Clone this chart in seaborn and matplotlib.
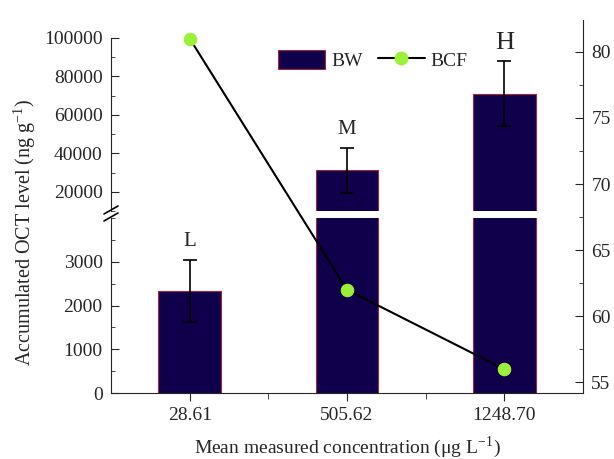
import numpy as np
import pandas as pd
import matplotlib
matplotlib.use("Agg")
import matplotlib.pyplot as plt
from matplotlib.lines import Line2D
from matplotlib.patches import Patch
from matplotlib.ticker import MultipleLocator
import seaborn as sns

# data
concentrations = ["28.61", "505.62", "1248.70"]
groups = ["L", "M", "H"]
bw = [2330, 31300, 71000]
bw_err = [710, 11700, 17000]
bcf = [81, 62, 56]

bar_color = "#10004c"
edge_color = "#a0283c"
dot_color = "#9cf03a"

sns.set_style("ticks")
plt.rcParams["font.family"] = ["Liberation Serif", "DejaVu Serif"]
plt.rcParams["mathtext.fontset"] = "stix"
plt.rcParams["font.size"] = 14

df = pd.DataFrame({"conc": concentrations, "BW": bw, "err": bw_err, "group": groups})
pos = np.arange(len(concentrations))

fig = plt.figure(figsize=(6.14, 4.59), dpi=100)
W, H = 614, 459
left, right = 111 / W, 583 / W


def frac(top_px, bottom_px):
    return [left, 1 - bottom_px / H, right - left, (bottom_px - top_px) / H]


ax_lo = fig.add_axes(frac(218, 393))
ax_hi = fig.add_axes(frac(38, 211))
ax_r = fig.add_axes(frac(20, 393))

for ax in (ax_lo, ax_hi):
    sns.barplot(data=df, x="conc", y="BW", ax=ax, color=bar_color, width=0.4,
                errorbar=None, edgecolor=edge_color, linewidth=0.8, saturation=1)
    ax.errorbar(pos, df["BW"], yerr=df["err"], fmt="none", ecolor="black",
                elinewidth=1.2, capsize=5, capthick=1.2, zorder=5)
    ax.set_xlim(-0.5, 2.5)
    ax.set_xlabel("")
    ax.set_ylabel("")
    ax.spines["top"].set_visible(False)
    ax.spines["right"].set_visible(False)
    ax.tick_params(axis="y", direction="in", length=6, labelsize=14, pad=6)
    ax.tick_params(axis="y", which="minor", direction="in", length=3)
    ax.patch.set_alpha(0)

ax_lo.set_ylim(0, 4000)
ax_lo.set_yticks([0, 1000, 2000, 3000])
ax_lo.yaxis.set_minor_locator(MultipleLocator(500))
ax_lo.tick_params(axis="x", direction="out", length=6, labelsize=14, pad=4)
ax_lo.set_xticks([0.5, 1.5], minor=True)
ax_lo.tick_params(axis="x", which="minor", direction="out", length=4)
ax_lo.set_xlabel("Mean measured concentration (μg L$^{\\mathregular{-1}}$)", fontsize=14, labelpad=8)

ax_hi.set_ylim(10000, 100000)
ax_hi.set_yticks([20000, 40000, 60000, 80000, 100000])
ax_hi.yaxis.set_minor_locator(MultipleLocator(10000))
ax_hi.spines["bottom"].set_visible(False)
ax_hi.tick_params(axis="x", bottom=False, labelbottom=False)

# group letters above error bars
for i, g in enumerate(groups):
    ax = ax_lo if bw[i] < 4000 else ax_hi
    ax.annotate(g, (pos[i], bw[i] + bw_err[i]), xytext=(0, 13),
                textcoords="offset points", ha="center", va="center",
                fontsize=15 if g != "H" else 19, clip_on=False)

# BCF on right axis
ax_r.set_facecolor("none")
sns.lineplot(x=pos, y=bcf, ax=ax_r, color="black", linewidth=1.5, marker="o",
             markersize=9, markerfacecolor=dot_color, markeredgecolor=dot_color, zorder=6)
ax_r.set_xlim(-0.5, 2.5)
ax_r.set_ylim(54.2, 82.4)
ax_r.yaxis.tick_right()
ax_r.set_yticks([55, 60, 65, 70, 75, 80])
ax_r.yaxis.set_minor_locator(MultipleLocator(2.5))
ax_r.tick_params(axis="y", which="both", direction="in", labelsize=14, pad=6)
ax_r.tick_params(axis="y", which="major", length=6)
ax_r.tick_params(axis="y", which="minor", length=3)
ax_r.tick_params(axis="x", bottom=False, labelbottom=False)
for s in ("left", "top", "bottom"):
    ax_r.spines[s].set_visible(False)

fig.text(25 / W, 1 - 232 / H, r"Accumulated OCT level (ng g$^{\mathregular{-1}}$)",
         rotation=90, ha="center", va="center", fontsize=14.5)

# break marks on the left axis
for yp in (210, 217):
    fig.add_artist(Line2D([104 / W, 118 / W], [1 - (yp + 4) / H, 1 - (yp - 4) / H],
                          color="black", linewidth=1.2))

handles = [Patch(facecolor=bar_color, edgecolor=edge_color, linewidth=0.8),
           Line2D([], [], color="black", linewidth=1.5, marker="o", markersize=9,
                  markerfacecolor=dot_color, markeredgecolor=dot_color)]
ax_hi.legend(handles, ["BW", "BCF"], loc="center", bbox_to_anchor=(0.555, 0.873),
             ncol=2, frameon=False, fontsize=14, handlelength=2.4, handleheight=1.1,
             handletextpad=0.3, columnspacing=0.8)

fig.savefig("out.png", dpi=100)
